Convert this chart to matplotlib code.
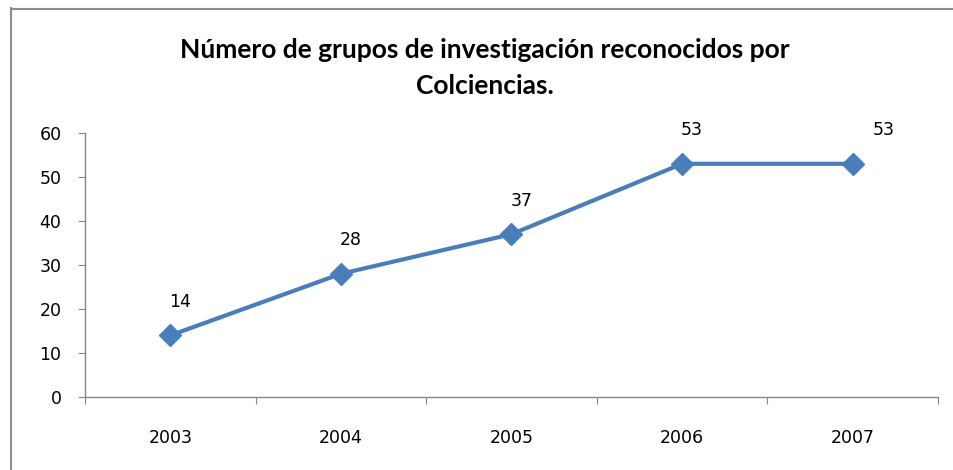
import matplotlib.pyplot as plt
from matplotlib.lines import Line2D

years = ["2003", "2004", "2005", "2006", "2007"]
grupos = [14, 28, 37, 53, 53]
yticks = [0, 10, 20, 30, 40, 50, 60]
title = "Número de grupos de investigación reconocidos por\nColciencias."

plt.rcParams['font.family'] = ['DejaVu Sans']

fig = plt.figure(figsize=(9.54, 4.70), dpi=100)
ax = fig.add_axes([85 / 954, 73 / 470, 853 / 954, 264 / 470])

x = list(range(len(years)))
ax.plot(x, grupos, color="#4a7ebb", linewidth=3, marker="D", markersize=11,
        solid_joinstyle="round")

# etiquetas de datos
for i, v in enumerate(grupos):
    dx = 22 if i == len(grupos) - 1 else 7
    ax.annotate(str(v), (i, v), xytext=(dx, 24), textcoords="offset points",
                ha="center", va="center", fontsize=12.5, color="#000000")

ax.set_xlim(-0.5, len(years) - 0.5)
ax.set_ylim(0, 60)
ax.set_yticks(yticks)
ax.set_xticks([i - 0.5 for i in range(len(years) + 1)])
ax.set_xticklabels([])
ax.set_xticks(x, minor=True)
ax.set_xticklabels(years, minor=True)
ax.tick_params(axis="x", which="major", length=5, color="#868686", direction="out")
ax.tick_params(axis="x", which="minor", length=0, pad=23, labelsize=12.5)
ax.tick_params(axis="y", length=5, color="#868686", pad=12, labelsize=12.5)

for s in ["top", "right"]:
    ax.spines[s].set_visible(False)
for s in ["left", "bottom"]:
    ax.spines[s].set_color("#868686")
    ax.spines[s].set_linewidth(1)

fig.text(485 / 954, 1 - 68 / 470, title, ha="center", va="center",
         fontsize=19, fontweight="bold", family=["Lato", "DejaVu Sans"],
         linespacing=1.6)

# marco del grafico
fig.add_artist(Line2D([11.5 / 954, 11.5 / 954], [0, 1 - 8 / 470],
                      color="#8c8c8c", linewidth=1.5))
fig.add_artist(Line2D([11 / 954, 1], [1 - 8.5 / 470, 1 - 8.5 / 470],
                      color="#8c8c8c", linewidth=1.5))

fig.savefig("out.png", dpi=100)
